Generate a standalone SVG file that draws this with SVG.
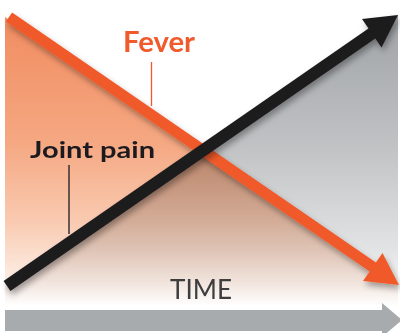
<svg xmlns="http://www.w3.org/2000/svg" width="400" height="333" viewBox="0 0 400 333">
  <defs>
    <linearGradient id="gOrange" x1="0" y1="10" x2="0" y2="306" gradientUnits="userSpaceOnUse">
      <stop offset="0" stop-color="#f18a5e"/>
      <stop offset="0.45" stop-color="#f5a882"/>
      <stop offset="0.72" stop-color="#f9cbb2"/>
      <stop offset="0.92" stop-color="#fdefe7"/>
      <stop offset="1" stop-color="#ffffff"/>
    </linearGradient>
    <linearGradient id="gGray" x1="0" y1="15" x2="0" y2="306" gradientUnits="userSpaceOnUse">
      <stop offset="0" stop-color="#9fa3a6"/>
      <stop offset="0.45" stop-color="#c0c2c4"/>
      <stop offset="0.8" stop-color="#e2e3e4"/>
      <stop offset="1" stop-color="#ffffff"/>
    </linearGradient>
    <filter id="shadow" x="-10%" y="-10%" width="120%" height="130%">
      <feDropShadow dx="2" dy="4" stdDeviation="3" flood-color="#000" flood-opacity="0.35"/>
    </filter>
    <style>
      .lbl { font-family: Lato, "Open Sans", "Liberation Sans", sans-serif; }
      .leader { stroke-width: 1.3; fill: none; }
    </style>
  </defs>

  <g id="background">
    <polygon id="fever-area" points="5,17 398,285 398,306 5,306" fill="url(#gOrange)"/>
    <polygon id="pain-area" points="5,288 398,15 398,306 5,306" fill="url(#gGray)" style="mix-blend-mode:multiply"/>
  </g>

  <g id="time-axis">
    <rect x="5" y="310" width="380" height="21" fill="#a8abad"/>
    <polygon points="382,303 402,320 382,337" fill="#a8abad"/>
    <text class="lbl" x="170" y="299" font-size="26" fill="#3d3d3d" textLength="62" lengthAdjust="spacingAndGlyphs">TIME</text>
  </g>

  <g id="connectors">
    <g id="fever-arrow" filter="url(#shadow)">
      <line x1="9" y1="17" x2="375" y2="268.5" stroke="#f05a2c" stroke-width="11"/>
      <polygon points="399,285 363,281 382.5,253" fill="#f05a2c"/>
    </g>
    <g id="pain-arrow" filter="url(#shadow)">
      <line x1="7" y1="286" x2="374" y2="32" stroke="#1c1a1f" stroke-width="12"/>
      <polygon points="398,15 362,19 381.5,47.5" fill="#1c1a1f"/>
    </g>
    <line class="leader" x1="151.5" y1="62" x2="151.5" y2="106" stroke="#f05a2c"/>
    <line class="leader" x1="69" y1="165" x2="69" y2="234" stroke="#1c1a1f"/>
  </g>

  <g id="fever-label">
    <text class="lbl" x="123" y="52" font-size="29" font-weight="bold" fill="#f05a2c" textLength="72" lengthAdjust="spacingAndGlyphs">Fever</text>
  </g>
  <g id="pain-label">
    <text class="lbl" x="30" y="158" font-size="23" font-weight="bold" fill="#1c1a1f" textLength="125" lengthAdjust="spacingAndGlyphs">Joint pain</text>
  </g>
</svg>
